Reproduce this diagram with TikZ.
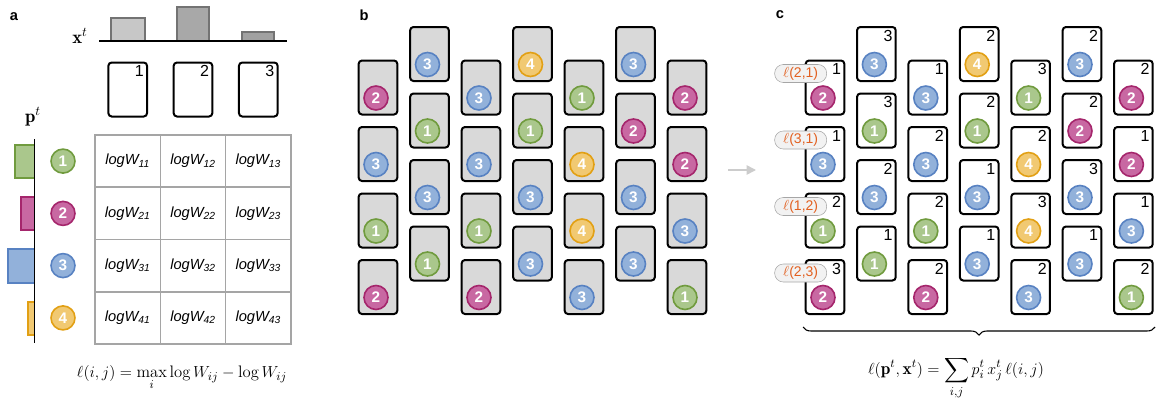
\documentclass[tikz,border=0pt]{standalone}
\usepackage{amsmath,amssymb}
\usepackage{fontspec}
\setsansfont{Liberation Sans}
\usepackage{tikz}
\usetikzlibrary{positioning,arrows.meta,calc,decorations.pathreplacing}
\definecolor{tokF1}{RGB}{170,199,140}
\definecolor{tokD1}{RGB}{112,155,62}
\definecolor{tokF2}{RGB}{200,104,162}
\definecolor{tokD2}{RGB}{165,38,108}
\definecolor{tokF3}{RGB}{146,177,218}
\definecolor{tokD3}{RGB}{88,130,194}
\definecolor{tokF4}{RGB}{241,201,114}
\definecolor{tokD4}{RGB}{226,160,20}
\definecolor{gridgray}{RGB}{165,165,165}
\definecolor{lossorange}{RGB}{226,96,32}

\begin{document}
\begin{tikzpicture}[x=0.75pt, y=-0.75pt,
        card/.style={draw, line width=1.5pt, rounded corners=2.5pt, minimum width=29pt,
                     minimum height=40.5pt, inner sep=0pt},
        backcard/.style={card, fill=black!15},
        facecard/.style={card, fill=white},
        cardnum/.style={font=\sffamily\fontsize{12}{12}\selectfont, inner sep=0pt, anchor=north east},
        tok/.style={circle, draw, line width=1.2pt, minimum size=18pt, inner sep=0pt, text=white,
                    font=\sffamily\bfseries\fontsize{11.5}{11.5}\selectfont, fill=tokF#1, draw=tokD#1},
        cell/.style={draw=gridgray, line width=1.2pt, minimum width=49pt, minimum height=39.2pt,
                     inner sep=0pt, font=\sffamily\itshape\fontsize{11}{11}\selectfont},
        pill/.style={draw=gray!70, fill=black!5, rounded corners=6.5pt, minimum width=39pt,
                     minimum height=13.5pt, inner sep=0pt, text=lossorange,
                     font=\sffamily\fontsize{10.5}{10.5}\selectfont},
        panel/.style={font=\sffamily\bfseries\fontsize{11}{11}\selectfont, inner sep=0pt},
        mathlbl/.style={font=\fontsize{12.5}{14}\selectfont, inner sep=0pt},
        xbar/.style={draw=black!55, line width=1pt},
        arr/.style={-{Triangle[length=7pt,width=7pt]}, line width=1.2pt, draw=black!20}
    ]
    \useasboundingbox (0,0) rectangle (1157,404);

    % panel a
    \node[panel] (la) at (14,17) {a};
    \node[mathlbl, font=\fontsize{14}{14}\selectfont] (xlbl) at (80,36) {$\mathbf{x}^t$};
    \draw[xbar, fill=black!22] (111,18) rectangle (145,41);
    \draw[xbar, fill=black!34] (177,7) rectangle (209,41);
    \draw[xbar, fill=black!37] (242,32) rectangle (274,41);
    \draw[line width=1.1pt] (99,41) -- (287,41);
    \foreach \j/\x in {1/127.7,2/193,3/258.3} {
        \node[facecard] (a\j) at (\x,89.5) {};
        \node[cardnum] (a\j-n) at ($(a\j.north east)+(-4,4)$) {\j};
    }

    \node[mathlbl, font=\fontsize{14}{14}\selectfont] (plbl) at (33,117) {$\mathbf{p}^t$};
    \draw[fill=tokF1, draw=tokD1, line width=1pt] (15,145) rectangle (34.5,178);
    \draw[fill=tokF2, draw=tokD2, line width=1pt] (21,197) rectangle (34.5,230);
    \draw[fill=tokF3, draw=tokD3, line width=1pt] (8,249) rectangle (34.5,283);
    \draw[fill=tokF4, draw=tokD4, line width=1pt] (28,302) rectangle (34.5,335);
    \draw[line width=1.1pt] (34.5,139) -- (34.5,343);
    \foreach \i/\y in {1/161.1,2/213.4,3/265.6,4/317.9} {
        \node[tok=\i] (p\i) at (63,\y) {\i};
        \foreach \j/\x in {1/127.7,2/193,3/258.3} {
            \node[cell] (w\i\j) at (\x,\y) {logW\textsubscript{\i\j}};
        }
    }
    \node[mathlbl] (lossdef) at (182,378) {$\displaystyle \ell(i,j)=\max_i \log W_{ij}-\log W_{ij}$};

    % panel b
    \node[panel] (lb) at (364,15) {b};
    \foreach \deck [count=\k from 0] in {{2,3,1,2},{3,1,3,1},{3,3,1,2},{4,1,3,3},{1,4,4,3},{3,2,3,3},{2,2,3,1}} {
        \foreach \t [count=\r from 0] in \deck {
            \pgfmathsetmacro\cx{378+51.5*\k}
            \pgfmathsetmacro\cy{87.5-33.5*mod(\k,2)+66.5*\r}
            \node[backcard] (b\k-\r) at (\cx,\cy) {};
            \node[tok=\t] (b\k-\r-t) at ($(b\k-\r.center)+(-2,10.5)$) {\t};
        }
    }

    \coordinate (shuffle) at (728,170);
    \coordinate (reveal) at (756,170);
    \draw[arr] (shuffle) -- (reveal);

    % panel c
    \node[panel] (lc) at (780,15) {c};
    \foreach \deck [count=\k from 0] in {{2/1,3/1,1/2,2/3},{3/3,1/3,3/2,1/1},{3/1,3/2,1/2,2/2},{4/2,1/2,3/1,3/1},{1/3,4/2,4/3,3/2},{3/2,2/2,3/3,3/1},{2/2,2/1,3/1,1/2}} {
        \foreach \t/\n [count=\r from 0] in \deck {
            \pgfmathsetmacro\cx{825+51.4*\k}
            \pgfmathsetmacro\cy{87.5-33.5*mod(\k,2)+66.5*\r}
            \node[facecard] (c\k-\r) at (\cx,\cy) {};
            \node[tok=\t] (c\k-\r-t) at ($(c\k-\r.center)+(-2,10.5)$) {\t};
            \node[cardnum] (c\k-\r-n) at ($(c\k-\r.north east)+(-4,4)$) {\n};
        }
    }
    \foreach \lbl [count=\r from 0] in {{(2,1)},{(3,1)},{(1,2)},{(2,3)}} {
        \node[pill] (c0-\r-l) at ($(c0-\r.north west)+(-4,14)$) {$\ell$\lbl};
    }

    \coordinate (braceL) at (803,327);
    \coordinate (braceR) at (1155,327);
    \draw[decorate, decoration={brace, mirror, amplitude=6pt}, line width=0.8pt] (braceL) -- (braceR);
    \node[mathlbl, font=\fontsize{13}{15}\selectfont] (lossavg) at (956,378) {$\displaystyle \ell(\mathbf{p}^t,\mathbf{x}^t)=\sum_{i,j} p_i^t\,x_j^t\,\ell(i,j)$};
\end{tikzpicture}
\end{document}
